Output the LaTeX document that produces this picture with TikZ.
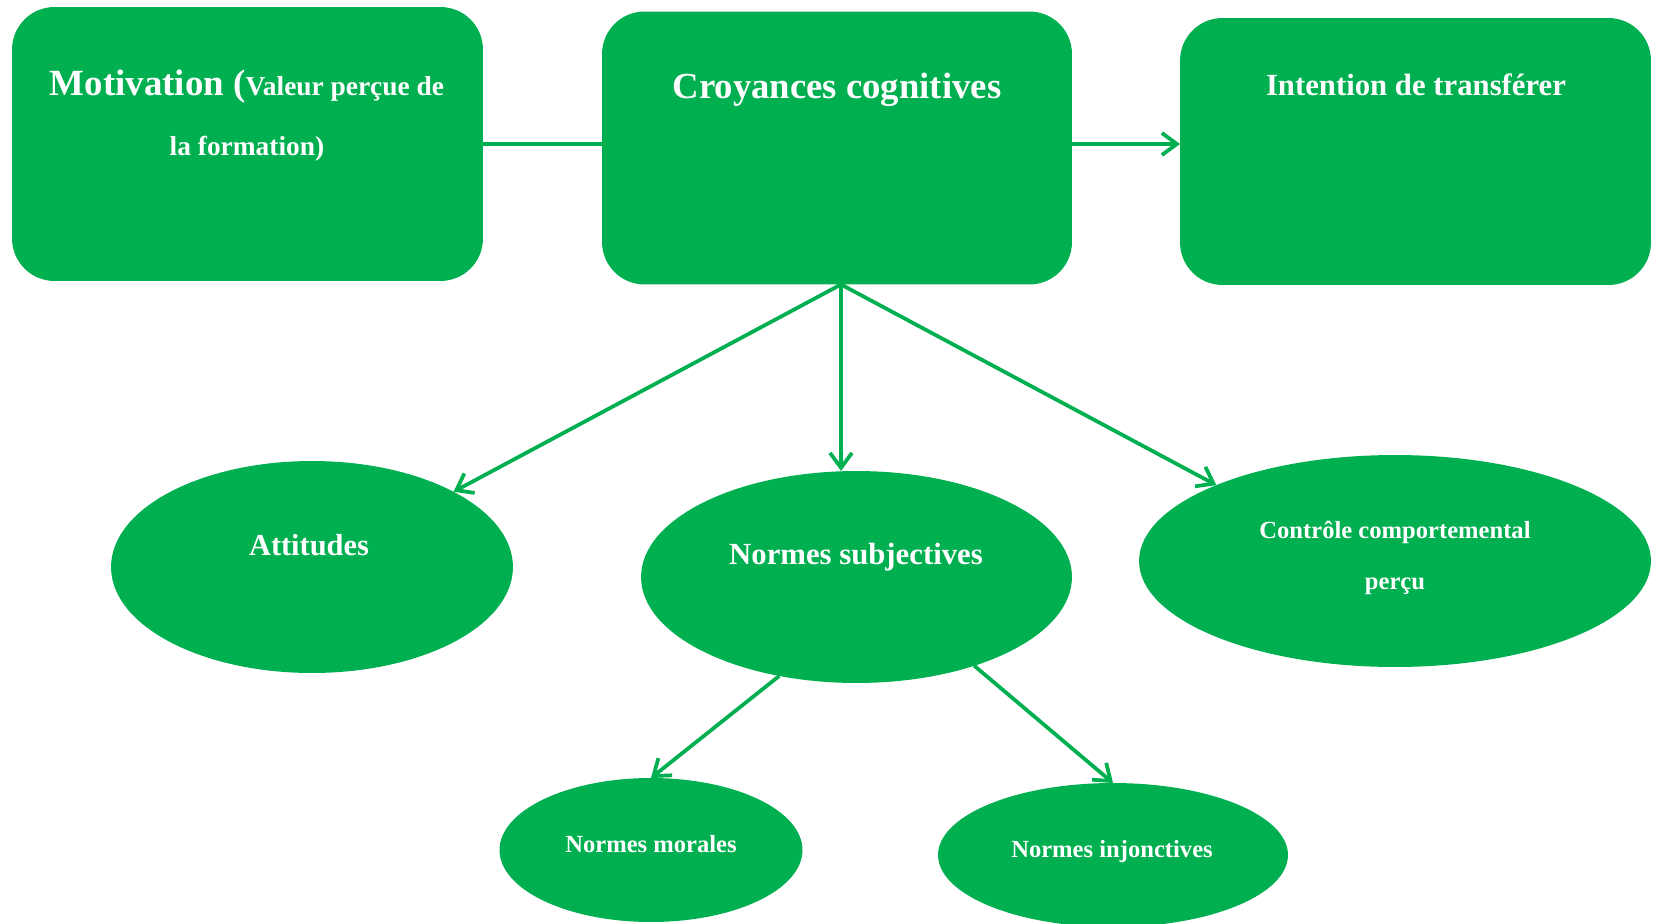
\documentclass[tikz,border=0pt]{standalone}
\usepackage{fontspec}
\setmainfont{Liberation Serif}
\usetikzlibrary{shapes.geometric,arrows.meta}
\definecolor{vert}{HTML}{00B050}

\begin{document}
\begin{tikzpicture}[x=0.02cm,y=-0.02cm,>={Straight Barb[length=0.3cm,width=0.44cm]},
  trait/.style={vert,line width=0.075cm},
  fleche/.style={->,vert,line width=0.075cm}]
\useasboundingbox (0,0) rectangle (1653,923);
\begin{scope}[every node/.style={fill=vert,inner sep=0pt,outer sep=0pt},
  boite/.style={rectangle,rounded corners=0.85cm},
  bulle/.style={ellipse},
  titre/.style={fill=none,text=white,anchor=base,align=center}]

% cadres du haut
\node[boite,minimum width=9.42cm,minimum height=5.48cm] (b1) at (247.5,144) {};
\node[boite,minimum width=9.4cm,minimum height=5.46cm] (b2) at (837,148) {};
\node[boite,minimum width=9.42cm,minimum height=5.34cm] (b3) at (1415.5,151.5) {};

% ellipses
\node[bulle,minimum width=8.04cm,minimum height=4.24cm] (att) at (312,567) {};
\node[bulle,minimum width=8.62cm,minimum height=4.24cm] (ns) at (856.5,577) {};
\node[bulle,minimum width=10.24cm,minimum height=4.24cm] (cc) at (1395,561) {};
\node[bulle,minimum width=6.06cm,minimum height=2.88cm] (nm) at (651,850) {};
\node[bulle,minimum width=7cm,minimum height=2.88cm] (ni) at (1113,855) {};

% textes (base = ligne du bas)
\node[titre,font=\bfseries\fontsize{15.6}{34.1}\selectfont] (t1) at (247,155)
  {{\fontsize{21}{34.1}\selectfont Motivation (}Valeur perçue de\\la formation)};
\node[titre,font=\bfseries\fontsize{20.9}{25}\selectfont] (t2) at (837,98) {Croyances cognitives};
\node[titre,font=\bfseries\fontsize{17.5}{21}\selectfont] (t3) at (1416,95) {Intention de transférer};
\node[titre,font=\bfseries\fontsize{17.3}{21}\selectfont] (t4) at (309,555) {Attitudes};
\node[titre,font=\bfseries\fontsize{17.5}{21}\selectfont] (t5) at (856,564) {Normes subjectives};
\node[titre,font=\bfseries\fontsize{14}{28.5}\selectfont] (t6) at (1395,589) {Contrôle comportemental\\perçu};
\node[titre,font=\bfseries\fontsize{14}{17}\selectfont] (t7) at (651,852) {Normes morales};
\node[titre,font=\bfseries\fontsize{14}{17}\selectfont] (t8) at (1112,857) {Normes injonctives};

\end{scope}

% liens
\coordinate (dep) at ([xshift=0.08cm]b2.south);
\draw[trait] (b1.east) -- (b1.east -| b2.west);
\draw[fleche] (b2.east |- b1.east) -- (b3.west |- b1.east);
\draw[fleche] (dep) -- (att.28);
\draw[fleche] (dep) -- (dep |- ns.north);
\draw[fleche] (dep) -- (cc.157);
\draw[fleche] (ns.232) -- (nm.north);
\draw[fleche] (ns.-37) -- (ni.north);

\end{tikzpicture}
\end{document}
